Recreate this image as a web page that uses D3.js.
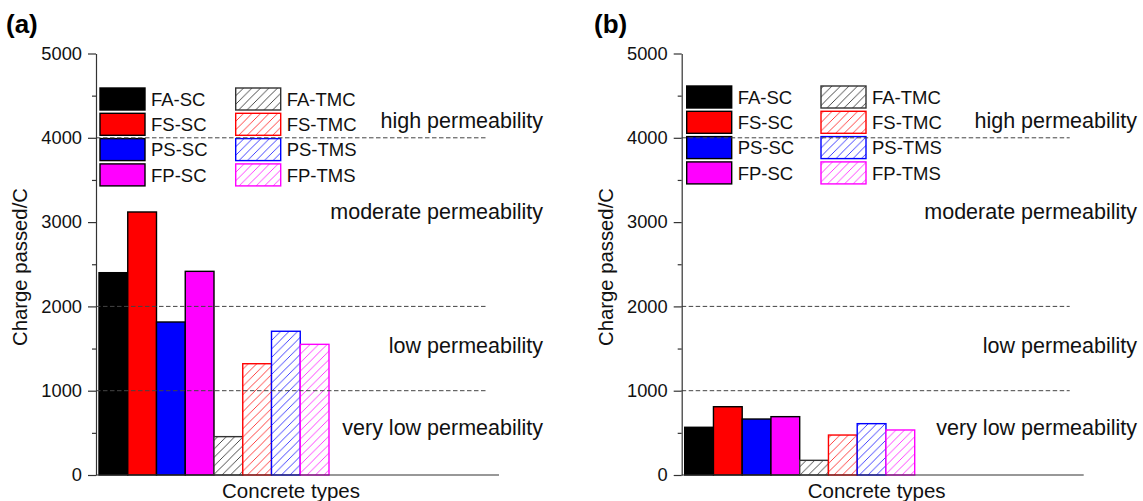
<!DOCTYPE html>
<html>
<head>
<meta charset="utf-8">
<script src="https://cdn.jsdelivr.net/npm/d3@7"></script>
<style>
  html, body { margin: 0; padding: 0; background: #fff; }
  svg { display: block; font-family: "Liberation Sans", Arial, Helvetica, sans-serif; }
</style>
</head>
<body>
<svg id="chart" width="1143" height="501"></svg>
<script>
// ---------- data ----------
const categories = ["FA-SC", "FS-SC", "PS-SC", "FP-SC", "FA-TMC", "FS-TMC", "PS-TMS", "FP-TMS"];
const seriesColors = ["#000000", "#ff0000", "#0000ff", "#ff00ff", "#000000", "#ff0000", "#0000ff", "#ff00ff"];
const seriesHatched = [false, false, false, false, true, true, true, true];
const valuesA = [2400, 3120, 1815, 2416, 455, 1320, 1705, 1550];
const valuesB = [566, 810, 664, 692, 174, 474, 609, 534];
const yTickValues = [0, 1000, 2000, 3000, 4000, 5000];
const yMinorTickValues = [500, 1500, 2500, 3500, 4500];
const thresholdValues = [1000, 2000, 4000];
const zoneLabels = ["high permeability", "moderate permeability", "low permeability", "very low permeability"];
const zoneLabelValues = [4205, 3126, 1536, 563];
const panelLabels = ["(a)", "(b)"];
const xAxisTitle = "Concrete types";
const yAxisTitle = "Charge passed/C";

// ---------- layout ----------
const svg = d3.select("#chart");
const y0 = 475, y1 = 53.5;
const panels = [
  { values: valuesA, label: panelLabels[0], axisX: 96, barW: 28.75, axisLen: 403, dashLen: 390, zoneRight: 543, legX: 100, legX2: 235.7, legY: 88, labelX: 6 },
  { values: valuesB, label: panelLabels[1], axisX: 681.7, barW: 28.75, axisLen: 402, dashLen: 388, zoneRight: 1137, legX: 686.7, legX2: 821, legY: 86, labelX: 594 }
];

const defs = svg.append("defs");
const hatchColors = { "#000000": "#333333", "#ff0000": "#ff2a2a", "#0000ff": "#2a2aff", "#ff00ff": "#ff2aff" };
Object.keys(hatchColors).forEach(c => {
  const p = defs.append("pattern")
    .attr("id", "hatch" + c.slice(1))
    .attr("patternUnits", "userSpaceOnUse")
    .attr("width", 8.5).attr("height", 8.5);
  p.append("rect").attr("width", 8.5).attr("height", 8.5).attr("fill", "#fff");
  p.append("path")
    .attr("d", "M-1,9.5 L9.5,-1 M-4,4 L4,-4 M4.5,12.5 L12.5,4.5")
    .attr("stroke", hatchColors[c]).attr("stroke-width", 0.9).attr("fill", "none");
});
const fillFor = i => seriesHatched[i] ? `url(#hatch${seriesColors[i].slice(1)})` : seriesColors[i];
const strokeFor = i => seriesHatched[i] ? (seriesColors[i] === "#000000" ? "#333" : seriesColors[i]) : "#000";

const y = d3.scaleLinear().domain([0, 5000]).range([y0, y1]);

panels.forEach(P => {
  const g = svg.append("g");
  const x = d3.scaleBand().domain(categories)
    .range([P.axisX + 3, P.axisX + 3 + categories.length * P.barW]).padding(0);

  // bars
  g.selectAll("rect.bar").data(P.values).enter().append("rect")
    .attr("class", "bar")
    .attr("x", (d, i) => x(categories[i]))
    .attr("y", d => y(d))
    .attr("width", x.bandwidth())
    .attr("height", d => y(0) - y(d))
    .attr("fill", (d, i) => fillFor(i))
    .attr("stroke", (d, i) => strokeFor(i))
    .attr("stroke-width", 1.4);

  // legend
  categories.forEach((c, i) => {
    const col = i < 4 ? 0 : 1;
    const row = i % 4;
    const bx = col === 0 ? P.legX : P.legX2;
    const by = P.legY + row * 25.3;
    g.append("rect").attr("x", bx).attr("y", by).attr("width", 45).attr("height", 22)
      .attr("fill", fillFor(i)).attr("stroke", strokeFor(i)).attr("stroke-width", 1.4);
    g.append("text").attr("x", bx + 51).attr("y", by + 11).attr("dy", "0.36em")
      .attr("font-size", 18.5).attr("fill", "#111").text(c);
  });

  // threshold dashed lines
  g.selectAll("line.thr").data(thresholdValues).enter().append("line")
    .attr("class", "thr")
    .attr("x1", P.axisX).attr("x2", P.axisX + P.dashLen)
    .attr("y1", d => y(d)).attr("y2", d => y(d))
    .attr("stroke", "#444").attr("stroke-width", 1).attr("stroke-dasharray", "4.5,2.5");

  // zone labels
  g.selectAll("text.zone").data(zoneLabels).enter().append("text")
    .attr("class", "zone")
    .attr("x", P.zoneRight).attr("y", (d, i) => y(zoneLabelValues[i]))
    .attr("dy", "0.36em").attr("text-anchor", "end")
    .attr("font-size", 21.5).attr("fill", "#111").text(d => d);

  // y axis
  const ax = g.append("g").attr("transform", `translate(${P.axisX},0)`)
    .call(d3.axisLeft(y).tickValues(yTickValues).tickFormat(d3.format("d"))
      .tickSize(8).tickSizeOuter(0).tickPadding(6));
  ax.select(".domain").attr("stroke", "#333").attr("stroke-width", 1.2);
  ax.selectAll(".tick line").attr("stroke", "#333").attr("stroke-width", 1.2);
  ax.selectAll(".tick text").attr("font-size", 18.3).attr("fill", "#111")
    .attr("font-family", "Liberation Sans, Arial, sans-serif");
  const axm = g.append("g").attr("transform", `translate(${P.axisX},0)`)
    .call(d3.axisLeft(y).tickValues(yMinorTickValues).tickSize(4).tickSizeOuter(0).tickFormat(""));
  axm.select(".domain").remove();
  axm.selectAll(".tick line").attr("stroke", "#333").attr("stroke-width", 1.2);

  // x axis baseline
  g.append("line").attr("x1", P.axisX).attr("x2", P.axisX + P.axisLen)
    .attr("y1", y(0)).attr("y2", y(0)).attr("stroke", "#333").attr("stroke-width", 1.2);

  // titles
  g.append("text").attr("x", P.axisX + 195).attr("y", 498)
    .attr("text-anchor", "middle").attr("font-size", 20.5).attr("fill", "#111").text(xAxisTitle);
  g.append("text").attr("transform", `translate(${P.axisX - 69},267) rotate(-90)`)
    .attr("text-anchor", "middle").attr("font-size", 20.3).attr("fill", "#111").text(yAxisTitle);
  g.append("text").attr("x", P.labelX).attr("y", 33)
    .attr("font-size", 26).attr("font-weight", "bold").attr("fill", "#000").text(P.label);
});
</script>
</body>
</html>
